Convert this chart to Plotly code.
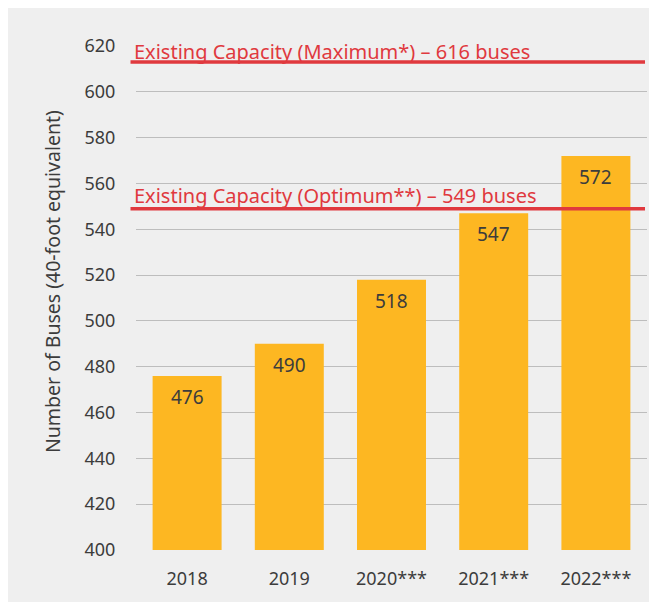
import plotly.graph_objects as go

categories = ["2018", "2019", "2020***", "2021***", "2022***"]
buses = [476, 490, 518, 547, 572]
y_ticks = [400, 420, 440, 460, 480, 500, 520, 540, 560, 580, 600, 620]
max_line_value = 613  # drawn position of the 616-bus line in the reference
max_label = "Existing Capacity (Maximum*) \u2013 616 buses"
opt_line_value = 549
opt_label = "Existing Capacity (Optimum**) \u2013 549 buses"
y_title = "Number of Buses (40-foot equivalent)"

W, H = 657, 602
OX, OY = 8, 8  # page offset of the figure (body margin)
L, R, T, B = 127.5, 18, 38, 60
pw = W - L - R
ph = H - T - B

BAR = "#FDB722"
RED = "#E0393E"
TXT = "#3c3c3c"
BG = "#efefef"
FONT = "Noto Sans"


def px_x(p):
    # page pixel -> paper fraction (x)
    return (p - OX - L) / pw


def px_y(p):
    # page pixel -> paper fraction (y)
    return (H - B - (p - OY)) / ph


fig = go.Figure()
fig.add_trace(go.Bar(x=categories, y=buses, marker=dict(color=BAR, line=dict(width=0)),
                     hoverinfo="skip"))

annotations = []
for i, v in enumerate(buses):
    # category index used as annotation x (numeric-looking names would be read as indices)
    annotations.append(dict(x=i, y=v, xref="x", yref="y", text=str(v),
                            showarrow=False, yshift=-21,
                            font=dict(family=FONT, size=19, color=TXT)))

shapes = []
for val, lab, ys in [(max_line_value, max_label, -5), (opt_line_value, opt_label, -2)]:
    shapes.append(dict(type="line", xref="paper", yref="y", x0=px_x(130), x1=px_x(645),
                       y0=val, y1=val, line=dict(color=RED, width=3.5), layer="above"))
    annotations.append(dict(xref="paper", yref="y", x=px_x(131), y=val, xanchor="left",
                            yanchor="bottom", yshift=ys, text=lab, showarrow=False,
                            font=dict(family=FONT, size=20, color=RED)))

# y-axis title (offset from the axis centre in the reference)
annotations.append(dict(xref="paper", yref="paper", x=px_x(51.5), y=px_y(282),
                        xanchor="center", yanchor="middle", textangle=-90,
                        text=y_title, showarrow=False,
                        font=dict(family=FONT, size=19.5, color=TXT)))

fig.update_layout(
    width=W, height=H,
    margin=dict(l=L, r=R, t=T, b=B, pad=0),
    paper_bgcolor=BG, plot_bgcolor=BG,
    bargap=0.325,
    showlegend=False,
    font=dict(family=FONT, size=18, color=TXT),
    annotations=annotations,
    shapes=shapes,
)
fig.update_xaxes(type="category", categoryorder="array", categoryarray=categories,
                 range=[-0.5, len(categories) - 0.5],
                 showgrid=False, showline=False, ticks="outside", ticklen=12,
                 tickcolor="rgba(0,0,0,0)", tickfont=dict(size=18, color=TXT))
fig.update_yaxes(range=[400, 620], tickvals=y_ticks, showgrid=True, gridcolor="#bdbdbd",
                 gridwidth=1, zeroline=False, showline=False, ticks="outside", ticklen=16,
                 tickcolor="rgba(0,0,0,0)", tickfont=dict(size=18, color=TXT))

fig.write_html("out.html", post_script="document.body.style.overflow='hidden';")
